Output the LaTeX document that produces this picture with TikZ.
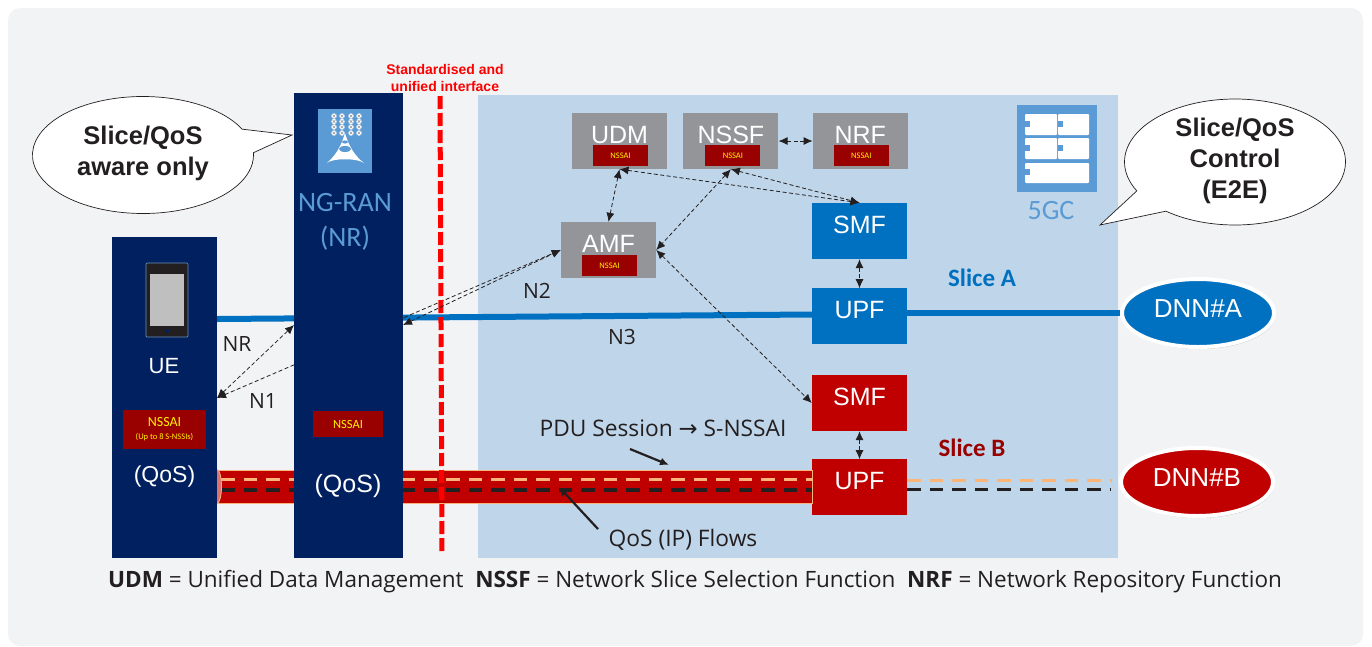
\documentclass[tikz,border=0pt]{standalone}
\usepackage{fontspec}
\setmainfont{Liberation Sans}
\newfontfamily\calibrifont{Carlito}
\newfontfamily\legendfont{Open Sans}
\newfontfamily\arrowfont{DejaVu Sans}
\usetikzlibrary{positioning}
\usetikzlibrary{shapes.geometric}
\usetikzlibrary{shapes.callouts}
\usetikzlibrary{shadows}
\usetikzlibrary{arrows.meta}

\definecolor{panelgray}{HTML}{F2F3F5}
\definecolor{corelight}{HTML}{BFD5E9}
\definecolor{navybox}{HTML}{002060}
\definecolor{fngray}{HTML}{939598}
\definecolor{sliceblue}{HTML}{0070C0}
\definecolor{slicered}{HTML}{C00000}
\definecolor{nssaired}{HTML}{990000}
\definecolor{iconblue}{HTML}{5B9BD5}
\definecolor{dashorange}{HTML}{F9B678}
\definecolor{inkblack}{HTML}{231F20}

\begin{document}
\begin{tikzpicture}
[
	x								= 1pt,
	y								= -1pt,
	%
	fnbox/.style					=
	{
		rectangle,
		minimum width				= 95pt,
		inner sep					= 0pt,
		text height					= 30pt,
		text depth					= 26pt,
		text						= white,
		font						= \fontsize{25}{30}\selectfont,
	},
	nssaibox/.style					=
	{
		rectangle,
		fill						= nssaired,
		text						= yellow,
		inner sep					= 0pt,
		align						= center,
		font						= \calibrifont\fontsize{8.5}{10}\selectfont,
		minimum width				= 55pt,
		minimum height				= 21pt,
	},
	navybox/.style					= {rectangle, fill = navybox, inner sep = 0pt},
	bubble/.style					=
	{
		ellipse callout,
		draw						= inkblack,
		fill						= white,
		line width					= 0.7pt,
		inner sep					= 0pt,
		align						= center,
		callout pointer arc			= 24,
		text						= inkblack,
		font						= \bfseries\fontsize{25.5}{31}\selectfont,
	},
	dnn/.style						=
	{
		ellipse,
		draw						= white,
		line width					= 4pt,
		minimum width				= 152pt,
		minimum height				= 68pt,
		inner sep					= 0pt,
		text						= white,
		text depth					= 8pt,
		font						= \fontsize{26}{30}\selectfont,
		drop shadow					= {shadow xshift = 1pt, shadow yshift = -2pt, fill = black!55},
	},
	signal/.style					=
	{
		dashed,
		dash pattern				= on 4pt off 2.5pt,
		line width					= 0.8pt,
		draw						= inkblack,
		{Latex[length=9pt,width=8pt]}-{Latex[length=9pt,width=8pt]},
	},
	pointer/.style					= {draw = inkblack, line width = 2.2pt, -{Latex[length=9pt,width=8pt]}},
	flowdash/.style					= {line width = 3.2pt, dash pattern = on 13.5pt off 9pt},
	interfacelabel/.style			= {text = inkblack, font = \legendfont\fontsize{21}{25}\selectfont},
	flowlabel/.style				= {text = inkblack, font = \legendfont\fontsize{22.75}{27}\selectfont},
	qoslabel/.style					= {text = white, font = \fontsize{23}{28}\selectfont},
]
	\useasboundingbox (0,0) rectangle (1372,646);

	\fill [panelgray, rounded corners = 12pt] (8,8) rectangle (1363,646);

	\node (core) [rectangle, fill = corelight, minimum width = 640pt, minimum height = 463pt] at (798,326.5) {};

	% functions of the core
	\node (udm)		[fnbox, fill = fngray] at (619.5,141) {UDM};
	\node (nssf)	[fnbox, fill = fngray, right = 16pt of udm] {NSSF};
	\node (nrf)		[fnbox, fill = fngray, right = 34pt of nssf] {NRF};
	\node (amf)		[fnbox, fill = fngray] at (608.5,250) {AMF};
	\node (smfa)	[fnbox, fill = sliceblue] at (859.5,231) {SMF};
	\node (upfa)	[fnbox, fill = sliceblue, below = 29pt of smfa] {UPF};
	\node (smfb)	[fnbox, fill = slicered] at (859.5,403) {SMF};
	\node (upfb)	[fnbox, fill = slicered, below = 28pt of smfb] {UPF};

	\node (nssaiudm)	[nssaibox, xshift = 1pt, above = 3pt of udm.south] {NSSAI};
	\node (nssainssf)	[nssaibox, xshift = 2pt, above = 3pt of nssf.south] {NSSAI};
	\node (nssainrf)	[nssaibox, xshift = 1pt, above = 3pt of nrf.south] {NSSAI};
	\node (nssaiamf)	[nssaibox, xshift = 1pt, above = 2pt of amf.south] {NSSAI};

	\node (dnna) [dnn, fill = sliceblue] at (1198,313) {DNN\#A};
	\node (dnnb) [dnn, fill = slicered] at (1197,482) {DNN\#B};

	\coordinate (nrleft)	at (217,319);
	\coordinate (nrright)	at (812,314.5);
	\coordinate (tubetop)	at (217,470);
	\coordinate (tubebot)	at (812,503);
	\coordinate (ueport)	at (217,398);
	\coordinate (ranport)	at (294,325);
	\coordinate (ranback)	at (403,325);

	% slice A and slice B
	\draw [sliceblue, line width = 6pt] (nrleft) -- (nrright);
	\draw [sliceblue, line width = 6pt] (upfa.east |- dnna.west) -- (dnna.west);
	\fill [slicered, draw = dashorange, line width = 0.8pt] (tubetop) rectangle (tubebot);
	\draw [dashorange, flowdash] (221,479.5) -- (812,479.5);
	\draw [inkblack, flowdash] (221,490) -- (812,490);
	\draw [dashorange, flowdash] (upfb.east |- 0,480.5) -- (1112,480.5);
	\draw [inkblack, flowdash] (upfb.east |- 0,489.5) -- (1110,489.5);
	\draw [dashorange, fill = slicered!55!white, line width = 0.8pt] (217,486.5) ellipse [x radius = 4.5pt, y radius = 17pt];

	% N1 runs behind the NG-RAN column
	\draw [signal] (ueport) -- (amf.west);

	% UE column
	\node (ue)	[navybox, minimum width = 105pt, minimum height = 321pt] at (164.5,397.5) {};
	\node (ran)	[navybox, minimum width = 109pt, minimum height = 465pt] at (348.5,325.5) {};

	\draw [draw = iconblue!70!gray, fill = inkblack, rounded corners = 1pt, line width = 0.7pt] (146,263) rectangle (188,337);
	\fill [fill = black!25!white] (150,274) rectangle (184,326);
	\fill [navybox] (167,331) circle [radius = 2pt];

	\node (uelabel)		[qoslabel, font = \fontsize{22}{26}\selectfont] at (164,366) {UE};
	\node (nssaiue)		[nssaibox, minimum width = 83pt, minimum height = 39pt, font = \calibrifont\fontsize{14}{14}\selectfont] at (164.5,429.5) {NSSAI\\[-1pt]{\fontsize{8.5}{10}\selectfont(Up to 8 S-NSSIs)}};
	\node (ueqos)		[qoslabel] at (164.5,477) {(QoS)};

	% NG-RAN column
	\fill [iconblue] (318,109) rectangle (372,173);
	\foreach \gx in {334,342,351,359}
		\foreach \gy in {116,121.5,127,133}
		{
			\fill [white] (\gx,\gy) circle [radius = 2.7pt];
			\draw [black!40!white, line width = 0.5pt] (\gx-1.5,\gy-1.5) -- (\gx+1.5,\gy+1.5) (\gx-1.5,\gy+1.5) -- (\gx+1.5,\gy-1.5);
		}
	\fill [white] (345,133) .. controls (349,147) and (355,156) .. (364,163) .. controls (358,158) and (332,158) .. (327,163) .. controls (335,156) and (341,147) .. (345,133);
	\fill [iconblue] (345,142) ellipse [x radius = 3pt, y radius = 1.6pt];
	\fill [iconblue] (345,149) ellipse [x radius = 6pt, y radius = 3pt];

	\node (ranlabel)	[text = iconblue, align = center, font = \calibrifont\fontsize{28}{35}\selectfont] at (345,222) {NG-RAN\\(NR)};
	\node (nssairan)	[nssaibox, minimum width = 70pt, minimum height = 26pt, font = \calibrifont\fontsize{12.5}{14}\selectfont] at (348,424) {NSSAI};
	\node (ranqos)		[qoslabel, font = \fontsize{25}{30}\selectfont] at (348,486) {(QoS)};

	% 5GC icon
	\fill [iconblue] (1017,105) rectangle (1097,192);
	\foreach \rowy in {114,138}
	{
		\fill [white, rounded corners = 1pt] (1025,\rowy) rectangle (1057,\rowy+21);
		\fill [white, rounded corners = 1pt] (1058,\rowy) rectangle (1089,\rowy+21);
		\fill [iconblue] (1025,\rowy+7) rectangle (1030,\rowy+13);
		\fill [iconblue] (1058,\rowy+7) rectangle (1063,\rowy+13);
	}
	\fill [white, rounded corners = 1pt] (1025,163) rectangle (1089,183);
	\fill [iconblue] (1025,169) rectangle (1030,175);
	\node (corelabel) [text = iconblue, font = \calibrifont\fontsize{28}{34}\selectfont] at (1051,211) {5GC};

	% interface
	\draw [red, line width = 5pt, dash pattern = on 13pt off 4pt] (440,96) -- (442,553);
	\node (iflabel) [text = red, align = center, font = \bfseries\fontsize{14}{16.5}\selectfont] at (445,78) {Standardised and\\unified interface};

	% signalling
	\draw [signal] (udm.south) -- (amf.north);
	\draw [signal] (udm.south) -- (smfa.north);
	\draw [signal] (nssf.south) -- (smfa.north);
	\draw [signal] (nssf.south) -- (amf.east);
	\draw [signal] (nssf.east) -- (nrf.west);
	\draw [signal] (amf.east) -- (smfb.west);
	\draw [signal] (smfa.south) -- (upfa.north);
	\draw [signal] (smfb.south) -- (upfb.north);
	\draw [signal] (ranback) -- (amf.west);
	\draw [signal] (ueport) -- (ranport);

	\node (nrlabel) [interfacelabel] at (237,344) {NR};
	\node (nonelabel) [interfacelabel] at (263,401) {N1};
	\node (ntwolabel) [interfacelabel] at (537,291) {N2};
	\node (nthreelabel) [interfacelabel] at (622,337) {N3};

	\node (slicea) [text = sliceblue, font = \calibrifont\bfseries\fontsize{25}{30}\selectfont] at (982,278) {Slice A};
	\node (sliceb) [text = nssaired, font = \calibrifont\bfseries\fontsize{25}{30}\selectfont] at (972,448) {Slice B};

	\node (pdu) [flowlabel] at (663,428) {PDU Session {\arrowfont →} S-NSSAI};
	\node (flows) [flowlabel] at (683,540) {QoS (IP) Flows};
	\coordinate (pdustart) at (630,449);
	\coordinate (pdutip) at (669,465);
	\coordinate (flowstart) at (598,529);
	\coordinate (flowtip) at (559,487);
	\draw [pointer] (pdustart) -- (pdutip);
	\draw [pointer] (flowstart) -- (flowtip);

	% callouts
	\node (awarebubble) [bubble, minimum width = 221pt, minimum height = 117pt, callout absolute pointer = {(292,135)}] at (143,155) {Slice/QoS\\aware only\\[-23pt]};
	\node (controlbubble) [bubble, minimum width = 221pt, minimum height = 126pt, callout absolute pointer = {(1100,225)}] at (1235,162) {Slice/QoS\\Control\\(E2E)\\[-23pt]};

	\node (legend) [text = inkblack, font = \legendfont\fontsize{22.5}{27}\selectfont] at (695,582) {\textbf{UDM} = Unified Data Management\ \ \textbf{NSSF} = Network Slice Selection Function\ \ \textbf{NRF} = Network Repository Function};
\end{tikzpicture}
\end{document}
